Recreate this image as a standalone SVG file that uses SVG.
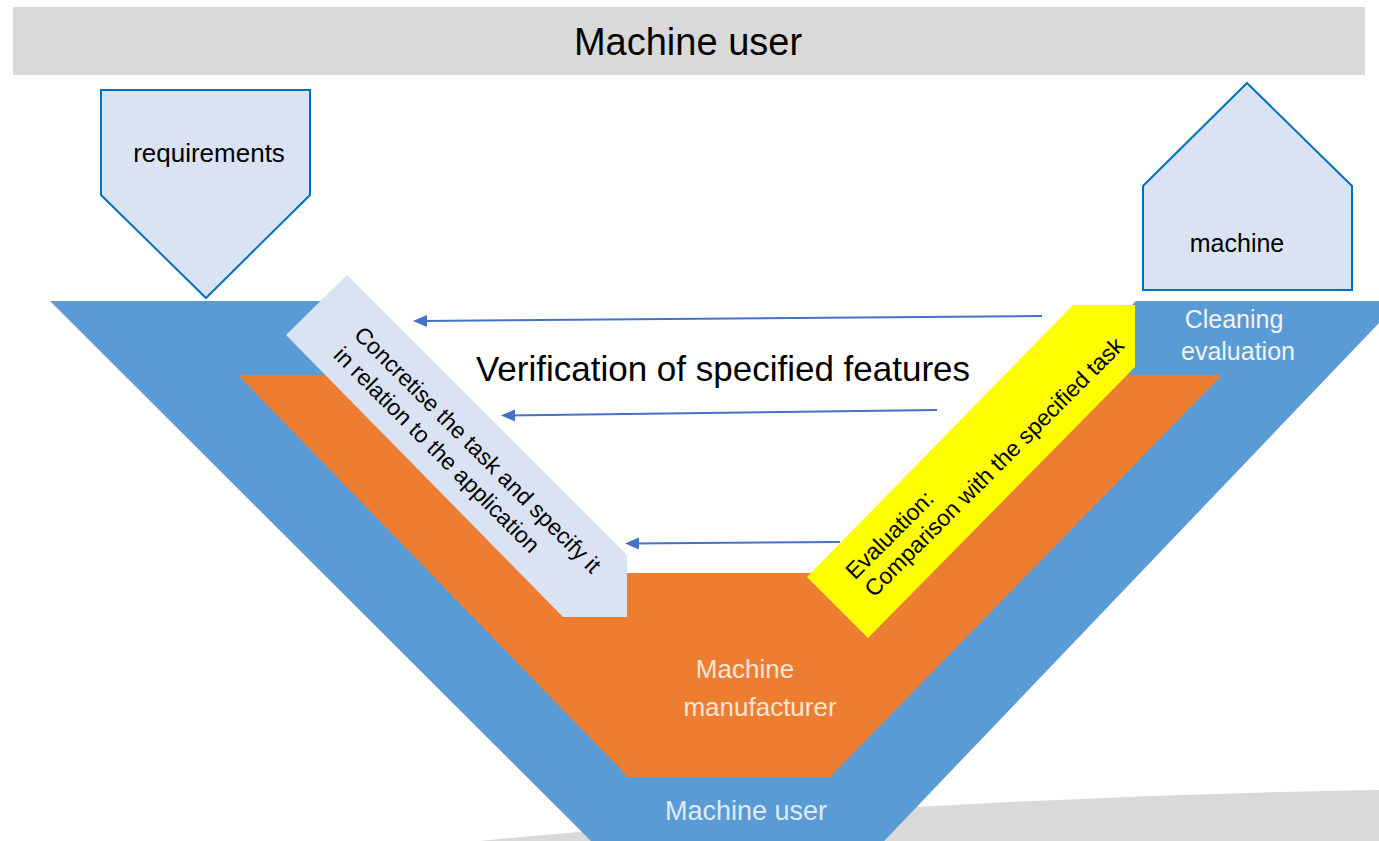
<svg xmlns="http://www.w3.org/2000/svg" width="1379" height="841" viewBox="0 0 1379 841">
<style>
text{font-family:"Liberation Sans",Arial,sans-serif}
.dark{fill:#000}
.pent{fill:#dae3f3;stroke:#0070c0;stroke-width:2}
.conn{stroke:#4472c4;stroke-width:2;fill:none}
</style>
<defs>
<marker id="ah" markerWidth="14" markerHeight="12" refX="8" refY="6" orient="auto" markerUnits="userSpaceOnUse">
<path d="M0,0 L14,6 L0,12 Z" fill="#4472c4"/>
</marker>
</defs>
<rect width="1379" height="841" fill="#fff"/>
<g id="header">
<rect x="13" y="7" width="1352" height="68" fill="#d9d9d9"/>
<text x="688" y="55" font-size="38" text-anchor="middle" class="dark">Machine user</text>
</g>
<g id="ground">
<path d="M480,841 Q930,797 1379,790 L1379,841 Z" fill="#d9d9d9"/>
</g>
<g id="user-band">
<polygon points="50,301 1400,301 866,860 610,860" fill="#5b9bd5"/>
</g>
<g id="manufacturer-band">
<polygon points="238,375 1222,375 830,777 628,777" fill="#ed7d31"/>
<polygon points="330,300 1137,300 864,573 603,573" fill="#fff"/>
</g>
<g id="concretise">
<polygon points="347,275 627,555 627,617 563,617 286,335" fill="#dae3f3"/>
<g transform="rotate(45)" font-size="23" class="dark">
<text x="487" y="-12">Concretise the task and specify it</text>
<text x="487" y="17">in relation to the application</text>
</g>
</g>
<g id="requirements">
<polygon class="pent" points="101,90 310,90 310,195 206,298 101,195"/>
<text x="209" y="162" font-size="26" text-anchor="middle" class="dark">requirements</text>
</g>
<g id="machine">
<polygon class="pent" points="1247,83 1352,186 1352,290 1143,290 1143,186"/>
<text x="1237" y="252" font-size="25" text-anchor="middle" class="dark">machine</text>
</g>
<g id="connectors">
<path class="conn" d="M1042,316 L419,321" marker-end="url(#ah)"/>
<path class="conn" d="M937,410 L507,415.5" marker-end="url(#ah)"/>
<path class="conn" d="M840,542 L631,543.5" marker-end="url(#ah)"/>
</g>
<g id="evaluation">
<polygon points="1073,305 1135,305 1135,367 868,638 807,577" fill="#ffff00"/>
<g transform="rotate(-45)" font-size="23" class="dark">
<text x="194" y="1015">Evaluation:</text>
<text x="195" y="1041">Comparison with the specified task</text>
</g>
</g>
<g id="labels">
<text x="723" y="381" font-size="35" text-anchor="middle" class="dark">Verification of specified features</text>
<text x="1234" y="328" font-size="25" text-anchor="middle" fill="#f2f2f2">Cleaning</text>
<text x="1238" y="360" font-size="25" text-anchor="middle" fill="#f2f2f2">evaluation</text>
<text x="745" y="678" font-size="26" text-anchor="middle" fill="#fbe5d6">Machine</text>
<text x="760" y="716" font-size="26" text-anchor="middle" fill="#fbe5d6">manufacturer</text>
<text x="746" y="820" font-size="27" text-anchor="middle" fill="#deebf7">Machine user</text>
</g>
</svg>
